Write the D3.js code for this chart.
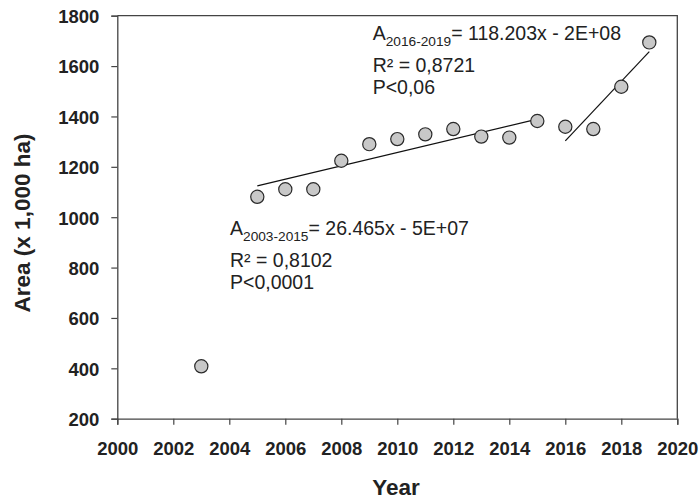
<!DOCTYPE html>
<html>
<head>
<meta charset="utf-8">
<script src="https://cdn.jsdelivr.net/npm/d3@7"></script>
<style>
  html, body { margin: 0; padding: 0; background: #fff; }
  svg { display: block; font-family: "Liberation Sans", Arial, sans-serif; }
</style>
</head>
<body>
<svg id="chart" width="699" height="499"></svg>
<script>
// Harvested area by year (x 1,000 ha)
const years = [2003, 2005, 2006, 2007, 2008, 2009, 2010, 2011, 2012, 2013, 2014, 2015, 2016, 2017, 2018, 2019];
const areas = [408, 1081, 1111, 1111, 1224, 1290, 1310, 1329, 1350, 1320, 1316, 1382, 1359, 1350, 1518, 1694];

// Linear trends: year span and slope per period
const trendSpans = [[2005, 2015], [2016, 2019]];
const trendSlopes = [26.465, 118.203];
const trendLabels = [
  { sub: "2003-2015", eq: "= 26.465x - 5E+07", r2: "R² = 0,8102", p: "P<0,0001" },
  { sub: "2016-2019", eq: "= 118.203x - 2E+08", r2: "R² = 0,8721", p: "P<0,06" }
];

const xTicks = d3.range(2000, 2021, 2);
const yTicks = d3.range(200, 1801, 200);

const svg = d3.select("#chart");
const margin = { left: 117.3, right: 699 - 677.3, top: 15.7, bottom: 499 - 418.7 };
const W = 699, H = 499;

const x = d3.scaleLinear().domain([2000, 2020]).range([margin.left, W - margin.right]);
const y = d3.scaleLinear().domain([200, 1800]).range([H - margin.bottom, margin.top]);

const ink = "#333";

// frame (top and right edges)
svg.append("path")
  .attr("d", `M${x(2000)},${y(1800)}H${x(2020)}V${y(200)}`)
  .attr("fill", "none").attr("stroke", "#444").attr("stroke-width", 1.3);

// x axis
const gx = svg.append("g")
  .attr("transform", `translate(0,${y(200)})`)
  .call(d3.axisBottom(x).tickValues(xTicks).tickFormat(d3.format("d")).tickSizeOuter(0).tickSize(6));
gx.select(".domain").attr("stroke", "#444").attr("stroke-width", 1.3);
gx.selectAll(".tick line").attr("stroke", "#444").attr("stroke-width", 1.2);
gx.selectAll(".tick text")
  .attr("y", 36.3).attr("dy", 0)
  .attr("fill", "#222")
  .style("font-size", "18.5px").style("font-weight", "bold");

// y axis
const gy = svg.append("g")
  .attr("transform", `translate(${x(2000)},0)`)
  .call(d3.axisLeft(y).tickValues(yTicks).tickFormat(d3.format("d")).tickSizeOuter(0).tickSize(6).tickPadding(12));
gy.select(".domain").attr("stroke", "#444").attr("stroke-width", 1.3);
gy.selectAll(".tick line").attr("stroke", "#444").attr("stroke-width", 1.2);
gy.selectAll(".tick text")
  .attr("dy", "0.37em")
  .attr("fill", "#222")
  .style("font-size", "18.5px").style("font-weight", "bold");

// axis titles
svg.append("text")
  .attr("x", 396).attr("y", 495)
  .attr("text-anchor", "middle")
  .attr("fill", "#222")
  .style("font-size", "22.5px").style("font-weight", "bold")
  .text("Year");

svg.append("text")
  .attr("transform", "translate(29.5,223) rotate(-90)")
  .attr("text-anchor", "middle")
  .attr("fill", "#222")
  .style("font-size", "22.5px").style("font-weight", "bold")
  .text("Area (x 1,000 ha)");

// trend lines: given slope, passing through the mean of the points in the span
const points = years.map((yr, i) => ({ yr, v: areas[i] }));
trendSpans.forEach((span, k) => {
  const inSpan = points.filter(p => p.yr >= span[0] && p.yr <= span[1]);
  const mx = d3.mean(inSpan, p => p.yr);
  const my = d3.mean(inSpan, p => p.v);
  const f = t => my + trendSlopes[k] * (t - mx);
  svg.append("line")
    .attr("x1", x(span[0])).attr("y1", y(f(span[0])))
    .attr("x2", x(span[1])).attr("y2", y(f(span[1])))
    .attr("stroke", "#111").attr("stroke-width", 1.2);
});

// points
svg.append("g").selectAll("circle")
  .data(points)
  .join("circle")
  .attr("cx", d => x(d.yr))
  .attr("cy", d => y(d.v))
  .attr("r", 6.6)
  .attr("fill", "#c8c8c8")
  .attr("stroke", "#2a2a2a")
  .attr("stroke-width", 1.2);

// equation annotations
const labelPos = [[230, 235], [372.7, 40]];
trendLabels.forEach((lab, k) => {
  const [lx, ly] = labelPos[k];
  const g = svg.append("g").attr("fill", "#222").style("font-size", "19.5px");
  const t = g.append("text").attr("x", lx).attr("y", ly);
  t.append("tspan").text("A");
  t.append("tspan").attr("dy", 5.5).style("font-size", "13.7px").text(lab.sub);
  t.append("tspan").attr("dy", -5.5).text(lab.eq);
  g.append("text").attr("x", lx).attr("y", ly + 31.5).text(lab.r2);
  g.append("text").attr("x", lx).attr("y", ly + 54).text(lab.p);
});
</script>
</body>
</html>
